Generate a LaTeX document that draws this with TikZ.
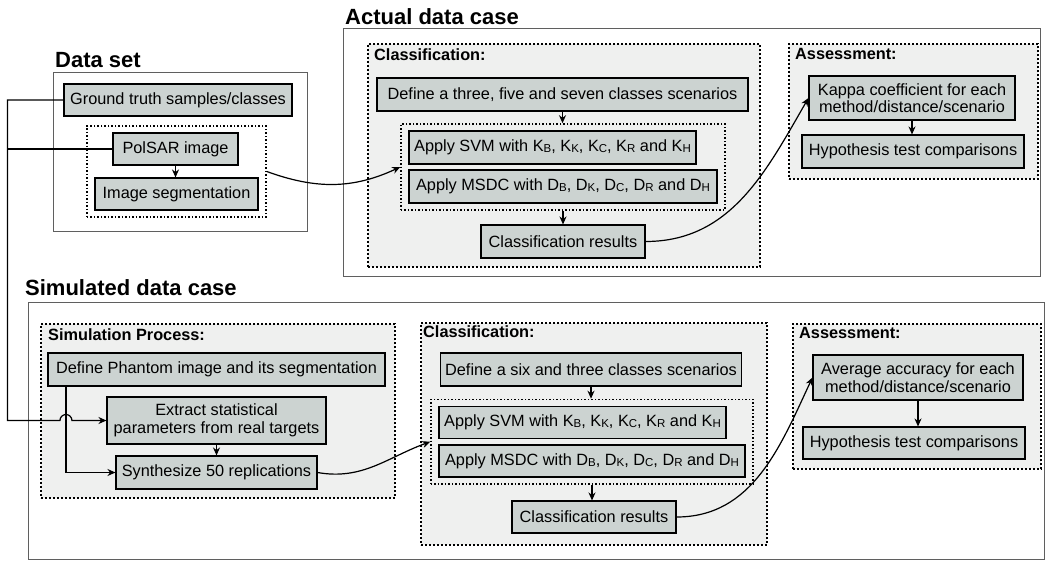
\documentclass[tikz,border=0pt]{standalone}
\usepackage{fontspec}
\setmainfont{Liberation Sans}
\usetikzlibrary{arrows.meta,positioning,fit,calc}

\definecolor{boxgray}{RGB}{204,211,209}
\definecolor{panelgray}{RGB}{239,240,239}
\definecolor{framegray}{RGB}{95,95,95}
\newcommand{\ssub}[1]{\raisebox{-0.8pt}{\fontsize{11.5}{12}\selectfont #1}}

\begin{document}
\begin{tikzpicture}[x=1pt, y=1pt,
    box/.style={rectangle, draw, fill=boxgray, line width=1.1pt, minimum height=32pt, inner xsep=5pt, align=center, font=\fontsize{16.3}{17.5}\selectfont},
    panel/.style={rectangle, draw, dash pattern=on 2pt off 2pt, line width=2pt, fill=panelgray, anchor=north west, inner sep=0pt},
    group/.style={rectangle, draw, dash pattern=on 1.5pt off 2pt, line width=1.5pt, inner xsep=7.5pt, inner ysep=6.5pt},
    casebox/.style={rectangle, draw=framegray, line width=1.4pt, anchor=north west, inner sep=0pt},
    casetitle/.style={anchor=base west, inner sep=0pt, font=\fontsize{22}{24}\selectfont\bfseries},
    heading/.style={anchor=base west, inner sep=0pt, font=\fontsize{16.3}{18}\selectfont\bfseries},
    conn/.style={line width=1.2pt},
    arrow/.style={-{Stealth[length=8pt, width=7pt]}, line width=1.2pt}
]
    \useasboundingbox (0,0) rectangle (1048,-562);

    % Outer frames
    \node[casebox, minimum width=254pt, minimum height=159pt] (dataset) at (53,-72) {};
    \node[casebox, minimum width=697pt, minimum height=248pt] (actual) at (343,-28) {};
    \node[casebox, minimum width=1016pt, minimum height=257pt] (simul) at (28,-302) {};
    \node[casetitle] (tdata) at (55,-67) {Data set};
    \node[casetitle] (tactual) at (345,-24) {Actual data case};
    \node[casetitle] (tsimul) at (25,-295) {Simulated data case};

    % Dotted panels
    \node[panel, minimum width=392pt, minimum height=223pt] (cls1) at (367,-43) {};
    \node[panel, minimum width=249pt, minimum height=135pt] (ass1) at (788,-43) {};
    \node[panel, minimum width=354pt, minimum height=174pt] (simp) at (40,-323) {};
    \node[panel, minimum width=346pt, minimum height=222pt] (cls2) at (420,-322) {};
    \node[panel, minimum width=248pt, minimum height=145pt] (ass2) at (792,-323) {};
    \node[heading] (hcls1) at (374,-60) {Classification:};
    \node[heading] (hass1) at (795,-59) {Assessment:};
    \node[heading] (hsimp) at (48,-340) {Simulation Process:};
    \node[heading] (hcls2) at (423,-337) {Classification:};
    \node[heading] (hass2) at (799,-338) {Assessment:};

    % Data set
    \node[box, minimum width=228pt] (gt) at (178,-100) {Ground truth samples/classes};
    \node[box, minimum width=125pt] (pol) at (175.5,-149) {PolSAR image};
    \node[box, minimum width=163pt] (seg) at (176.5,-194) {Image segmentation};
    \node[group, fit=(pol)(seg)] (segfit) {};

    % Actual data case
    \node[box, minimum width=371pt, minimum height=33pt] (def1) at (562.5,-94.5) {Define a three, five and seven classes scenarios};
    \node[box, minimum width=287pt, minimum height=33pt] (svm1) at (552.5,-147.5) {Apply SVM with K\ssub{B}, K\ssub{K}, K\ssub{C}, K\ssub{R} and K\ssub{H}};
    \node[box, minimum width=308pt, minimum height=33pt] (msdc1) at (563,-186.5) {Apply MSDC with D\ssub{B}, D\ssub{K}, D\ssub{C}, D\ssub{R} and D\ssub{H}};
    \node[group, fit=(svm1)(msdc1)] (fit1) {};
    \node[box, minimum width=164pt, minimum height=33pt] (res1) at (563,-241.5) {Classification results};
    \node[box, minimum width=206pt, minimum height=44pt] (kappa) at (912,-98) {Kappa coefficient for each\\method/distance/scenario};
    \node[box, minimum width=222pt, minimum height=33pt] (hyp1) at (913,-151.5) {Hypothesis test comparisons};

    % Simulated data case
    \node[box, minimum width=337pt, minimum height=33pt] (phan) at (216.5,-369.5) {Define Phantom image and its segmentation};
    \node[box, minimum width=219pt, minimum height=47pt] (ext) at (216.5,-420.5) {Extract statistical\\parameters from real targets};
    \node[box, minimum width=201pt, minimum height=33pt] (syn) at (216.5,-472.5) {Synthesize 50 replications};
    \node[box, minimum width=298pt, minimum height=33pt] (def2) at (591,-369.5) {Define a six and three classes scenarios};
    \node[box, minimum width=287pt] (svm2) at (582.5,-422.5) {Apply SVM with K\ssub{B}, K\ssub{K}, K\ssub{C}, K\ssub{R} and K\ssub{H}};
    \node[box, minimum width=306pt] (msdc2) at (592,-461) {Apply MSDC with D\ssub{B}, D\ssub{K}, D\ssub{C}, D\ssub{R} and D\ssub{H}};
    \node[group, fit=(svm2)(msdc2)] (fit2) {};
    \node[box, minimum width=164pt] (res2) at (594,-517) {Classification results};
    \node[box, minimum width=210pt, minimum height=45pt] (avg) at (918,-377.5) {Average accuracy for each\\method/distance/scenario};
    \node[box, minimum width=222pt] (hyp2) at (914,-443) {Hypothesis test comparisons};

    % Connections
    \coordinate (bus) at ($(ext.west)+(-99,0)$);
    \coordinate (tap) at ($(phan.south west)+(18.5,0)$);
    \draw[arrow] (gt.west) -| (bus) -- ($(tap |- bus)+(-6,0)$) arc[start angle=180, end angle=0, radius=6pt] -- (ext.west);
    \draw[conn] (pol.west) -- (pol.west -| bus);
    \draw[arrow] (tap) |- (syn.west);
    \draw[arrow] (pol.south) -- (pol.south |- seg.north);
    \draw[arrow] (ext.south) -- (ext.south |- syn.north);

    \draw[arrow] (def1.south) -- (def1.south |- fit1.north);
    \draw[arrow] (fit1.south) -- (fit1.south |- res1.north);
    \draw[arrow] (kappa.south) -- (kappa.south |- hyp1.north);
    \draw[arrow] (def2.south) -- (def2.south |- fit2.north);
    \draw[arrow] (fit2.south) -- (fit2.south |- res2.north);
    \draw[arrow] (avg.south) -- (avg.south |- hyp2.north);

    \draw[arrow] (segfit.east) to[out=-20, in=205] (fit1.west);
    \draw[arrow] (res1.east) to[out=0, in=240] (kappa.west);
    \draw[arrow] (syn.east) to[out=-10, in=200] (fit2.west);
    \draw[arrow] (res2.east) to[out=0, in=245] (avg.west);
\end{tikzpicture}
\end{document}
